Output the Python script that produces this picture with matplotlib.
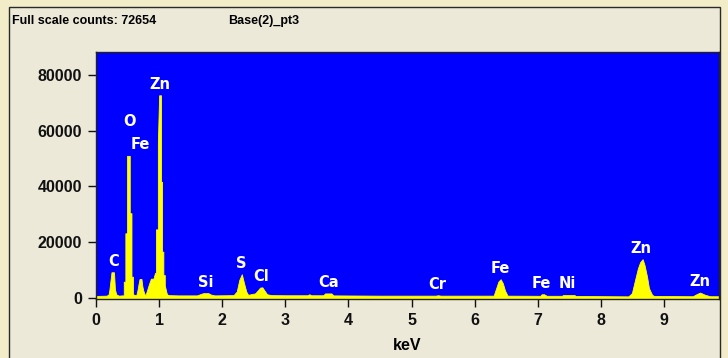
import matplotlib
matplotlib.use("Agg")
import matplotlib.pyplot as plt
import numpy as np
from matplotlib import font_manager
from matplotlib.patches import Rectangle

# EDS spectrum: energy (keV) and counts, traced as a stepped outline
energy_kev = [
    0.000, 0.170, 0.200, 0.212, 0.245, 0.285, 0.300, 0.320, 0.360, 0.410,
    0.440, 0.440, 0.465, 0.465, 0.492, 0.492, 0.535, 0.535, 0.562, 0.562,
    0.585, 0.585, 0.610, 0.640, 0.660, 0.675, 0.690, 0.720, 0.735, 0.750,
    0.770, 0.785, 0.800, 0.840, 0.870, 0.910, 0.935, 0.950, 0.950, 0.980,
    0.980, 1.000, 1.030, 1.030, 1.046, 1.046, 1.067, 1.067, 1.090, 1.090,
    1.120, 1.140, 1.300, 1.600, 1.660, 1.700, 1.780, 1.820, 1.880, 2.180,
    2.230, 2.270, 2.310, 2.345, 2.380, 2.410, 2.470, 2.520, 2.560, 2.600,
    2.635, 2.670, 2.710, 2.780, 3.000, 3.350, 3.380, 3.410, 3.600, 3.630,
    3.730, 3.760, 4.500, 5.380, 5.420, 5.460, 6.300, 6.340, 6.375, 6.410,
    6.445, 6.480, 6.520, 7.000, 7.040, 7.060, 7.100, 7.140, 7.380, 7.400,
    7.580, 7.600, 8.435, 8.490, 8.540, 8.585, 8.620, 8.660, 8.690, 8.730,
    8.760, 8.810, 8.840, 9.455, 9.520, 9.570, 9.650, 9.730, 9.870,
]
counts = [
    600, 700, 1200, 2800, 9100, 9100, 3000, 1200, 700, 800,
    800, 5700, 5700, 23100, 23100, 50900, 50900, 30300, 30300, 7500,
    7500, 1300, 900, 1000, 3000, 5000, 6700, 6700, 4000, 2500,
    1200, 1000, 2000, 4900, 6800, 6800, 8900, 8900, 24500, 24500,
    55400, 72654, 72654, 41600, 41600, 16500, 16500, 8100, 8100, 4400,
    1500, 900, 800, 800, 1300, 1600, 1600, 1100, 800, 900,
    2200, 6350, 8400, 5200, 2200, 1000, 1300, 1500, 2500, 3600,
    3700, 2500, 1200, 900, 850, 850, 1200, 850, 850, 1500,
    1500, 800, 700, 700, 850, 700, 700, 3400, 5750, 6600,
    5170, 2500, 700, 650, 650, 1200, 1200, 650, 650, 900,
    900, 600, 450, 1600, 6350, 10500, 12700, 13800, 11700, 7500,
    3400, 1000, 600, 500, 1300, 1800, 1000, 500, 500,
]

# Identified X-ray lines
line_names = ["C", "O", "Fe", "Zn", "Si", "S", "Cl", "Ca", "Cr", "Fe", "Fe", "Ni", "Zn", "Zn"]
line_kev = [0.277, 0.525, 0.705, 1.012, 1.740, 2.307, 2.622, 3.690,
            5.411, 6.400, 7.058, 7.471, 8.631, 9.572]

x_ticks = [0, 1, 2, 3, 4, 5, 6, 7, 8, 9]
y_ticks = [0, 20000, 40000, 60000, 80000]
full_scale_counts = 72654
spectrum_name = "Base(2)_pt3"


def pick_family(candidates):
    names = {f.name for f in font_manager.fontManager.ttflist}
    for c in candidates:
        if c in names:
            return c
    return "DejaVu Sans"


narrow = pick_family(["Liberation Sans Narrow", "Liberation Sans", "DejaVu Sans"])
sans = pick_family(["Liberation Sans", "DejaVu Sans"])
head_size = 11.5 if narrow == "Liberation Sans Narrow" else 9.0

W, H = 728, 358
fig = plt.figure(figsize=(W / 100, H / 100), dpi=100, facecolor="#F2ECC8")

# beige panel behind the plot
panel = Rectangle((9 / W, -0.1), (720 - 9) / W, 1 - 7 / H + 0.1,
                  transform=fig.transFigure, facecolor="#ECE9D8",
                  edgecolor="#2a2a2a", linewidth=1.0, zorder=-10)
fig.patches.append(panel)

ax = fig.add_axes([96 / W, 1 - 299 / H, (719 - 96) / W, (299 - 52) / H])
ax.set_zorder(5)
ax.set_facecolor("#0000FF")

e = np.asarray(energy_kev, dtype=float)
c = np.asarray(counts, dtype=float)
ax.fill_between(e, c, -5000, color="#FFFF00", linewidth=0.6, edgecolor="#FFFF00")

ax.set_xlim(0, 9.87)
ax.set_ylim(-500, 88200)
ax.set_xticks(x_ticks)
ax.set_yticks(y_ticks)
ax.set_xticklabels([str(t) for t in x_ticks])
ax.set_yticklabels([str(t) for t in y_ticks])
ax.tick_params(direction="out", length=6, width=1, colors="#111111", pad=4)
for lab in ax.get_xticklabels() + ax.get_yticklabels():
    lab.set_fontfamily(sans)
    lab.set_fontweight("bold")
    lab.set_fontsize(11.5)
for s in ax.spines.values():
    s.set_color("#222222")
    s.set_linewidth(1.0)

ax.set_xlabel("keV", fontfamily=sans, fontweight="bold", fontsize=11.5, labelpad=7)

# line labels: above the tallest counts near each line, stacked if crowded
grid = np.linspace(0, 9.87, 4000)
prof = np.interp(grid, e, c)
placed = []
order = np.argsort(line_kev)[::-1]
for i in order:
    k = line_kev[i]
    win = (grid >= k - 0.18) & (grid <= k + 0.18)
    y = prof[win].max() + 4000
    moved = True
    while moved:
        moved = False
        for pk, py in placed:
            if abs(pk - k) < 0.25 and abs(py - y) < 8000:
                y = py + 8200
                moved = True
    placed.append((k, y))
    ax.text(k, y, line_names[i], color="white", ha="center", va="center",
            fontsize=10.5, fontweight="bold", fontfamily="DejaVu Sans")

fig.text(12 / W, 1 - 21 / H, "Full scale counts: %d" % full_scale_counts,
         fontfamily=narrow, fontweight="bold", fontsize=head_size, va="center", ha="left")
fig.text(228 / W, 1 - 21 / H, spectrum_name,
         fontfamily=narrow, fontweight="bold", fontsize=head_size, va="center", ha="left")

fig.savefig("out.png", dpi=100, facecolor=fig.get_facecolor())
